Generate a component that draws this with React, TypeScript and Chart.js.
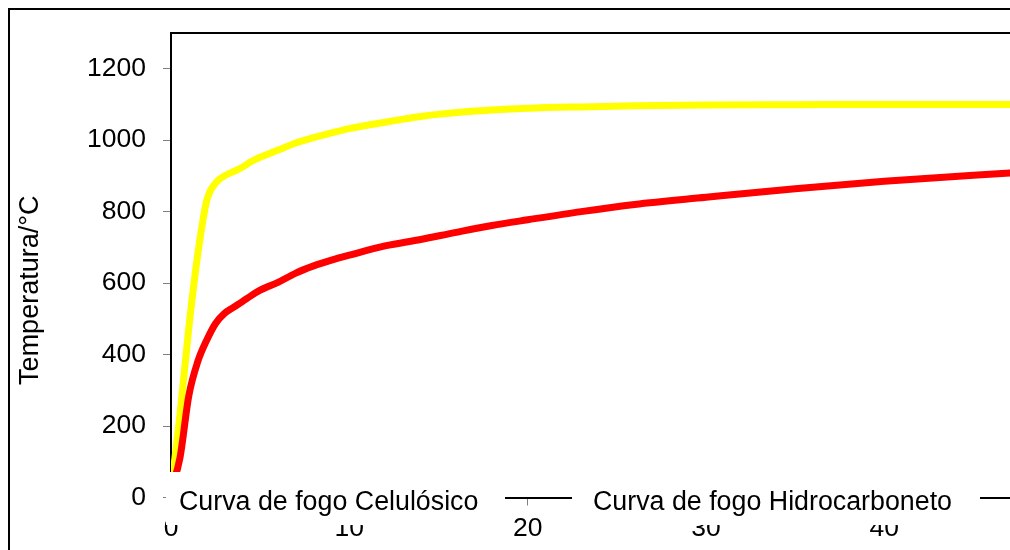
import React, { useEffect, useRef } from "react";
import { Chart, registerables } from "chart.js";

Chart.register(...registerables);

// Time in minutes
const minutes = [0, 0.5, 1, 1.5, 2, 2.5, 3, 3.5, 4, 4.5, 5, 6, 7, 8, 9, 10, 12, 14, 16, 18, 20, 23, 26, 30, 35, 40, 45, 50, 55, 60];
// Temperatures (°C)
const celulosico = [20, 110, 285, 380, 440, 487, 515, 532, 548, 565, 580, 602, 628, 648, 664, 678, 704, 722, 742, 761, 777, 800, 820, 840, 864, 885, 902, 917, 930, 942];
const hidrocarboneto = [20, 230, 475, 680, 830, 880, 900, 912, 924, 940, 952, 972, 992, 1007, 1020, 1032, 1050, 1066, 1077, 1084, 1089, 1093, 1096, 1098, 1099, 1100, 1100, 1100, 1100, 1100];
const seriesNames = ["Curva de fogo Celulósico", "Curva de fogo Hidrocarboneto"];
const seriesColors = ["#FF0000", "#FFFF00"];
const yTicks = [0, 200, 400, 600, 800, 1000, 1200];
const xTicks = [0, 10, 20, 30, 40, 50, 60];
const yTitle = "Temperatura/°C";

const FONT_FAMILY = "'Liberation Sans', Arial, Helvetica, sans-serif";
const FONT_SIZE = 26.5;

const overlayPlugin = {
  id: "overlay",
  afterDraw(chart: any) {
    const { ctx, chartArea } = chart;
    const { left, top, bottom, right } = chartArea;
    ctx.save();
    // plot area top border
    ctx.strokeStyle = "#000";
    ctx.lineWidth = 2;
    ctx.beginPath();
    ctx.moveTo(left - 1, top);
    ctx.lineTo(right, top);
    ctx.stroke();

    // y axis title
    ctx.save();
    ctx.font = `${FONT_SIZE + 0.5}px ${FONT_FAMILY}`;
    ctx.fillStyle = "#000";
    ctx.textAlign = "center";
    ctx.textBaseline = "alphabetic";
    ctx.translate(38, (top + bottom) / 2 + 25);
    ctx.rotate(-Math.PI / 2);
    ctx.fillText(yTitle, 0, 0);
    ctx.restore();

    // legend (text boxes with white background)
    const boxTop = bottom - 25.5;
    const boxH = 53;
    ctx.fillStyle = "#fff";
    ctx.fillRect(left - 5, boxTop, 339, boxH);
    ctx.fillRect(left + 401, boxTop, 408, boxH);
    ctx.fillStyle = "#000";
    ctx.font = `${FONT_SIZE + 0.3}px ${FONT_FAMILY}`;
    ctx.textAlign = "left";
    ctx.textBaseline = "alphabetic";
    const names = chart.data.datasets.map((d: any) => d.label);
    ctx.fillText(names[0], left + 8, bottom + 12.5);
    ctx.fillText(names[1], left + 422, bottom + 12.5);
    ctx.restore();
  },
};

export default function App() {
  const canvasRef = useRef<HTMLCanvasElement | null>(null);

  useEffect(() => {
    const canvas = canvasRef.current;
    if (!canvas) return;
    const chart = new Chart(canvas, {
      type: "line",
      data: {
        datasets: [
          {
            label: seriesNames[0],
            data: minutes.map((t, i) => ({ x: t, y: celulosico[i] })),
            borderColor: seriesColors[0],
            backgroundColor: seriesColors[0],
            borderWidth: 7,
            pointRadius: 0,
            cubicInterpolationMode: "monotone",
            fill: false,
          },
          {
            label: seriesNames[1],
            data: minutes.map((t, i) => ({ x: t, y: hidrocarboneto[i] })),
            borderColor: seriesColors[1],
            backgroundColor: seriesColors[1],
            borderWidth: 7,
            pointRadius: 0,
            cubicInterpolationMode: "monotone",
            fill: false,
          },
        ],
      },
      options: {
        animation: false,
        responsive: false,
        devicePixelRatio: 1,
        layout: { padding: { left: 0, top: 31, right: 59, bottom: 0 } },
        plugins: {
          legend: { display: false },
          tooltip: { enabled: false },
          title: { display: false },
        },
        scales: {
          x: {
            type: "linear",
            min: 0,
            max: 60,
            afterBuildTicks: (scale: any) => {
              scale.ticks = xTicks.map((v) => ({ value: v }));
            },
            afterFit: (scale: any) => {
              scale.height = 102.5;
            },
            ticks: {
              stepSize: 10,
              padding: 7,
              color: "#000",
              font: { family: FONT_FAMILY, size: FONT_SIZE },
              maxRotation: 0,
              callback: (v: any) => String(v),
            },
            grid: {
              drawOnChartArea: false,
              drawTicks: true,
              tickLength: 8,
              color: "#808080",
            },
            border: { display: true, color: "#000", width: 2 },
          },
          y: {
            type: "linear",
            min: 0,
            max: 1300,
            afterBuildTicks: (scale: any) => {
              scale.ticks = yTicks.map((v) => ({ value: v }));
            },
            afterFit: (scale: any) => {
              scale.width = 171;
            },
            ticks: {
              stepSize: 200,
              padding: 17,
              color: "#000",
              font: { family: FONT_FAMILY, size: FONT_SIZE },
              callback: (v: any) => String(v),
            },
            grid: {
              drawOnChartArea: false,
              drawTicks: true,
              tickLength: 8,
              color: "#808080",
            },
            border: { display: true, color: "#000", width: 2 },
          },
        },
      },
      plugins: [overlayPlugin],
    } as any);
    return () => chart.destroy();
  }, []);

  return (
    <div
      style={{
        position: "fixed",
        left: 0,
        top: 0,
        width: 1010,
        height: 550,
        overflow: "hidden",
        background: "#fff",
      }}
    >
      <div
        style={{
          position: "absolute",
          left: 7.5,
          top: 7.5,
          width: 1500,
          height: 800,
          borderLeft: "2px solid #000",
          borderTop: "2px solid #000",
          boxSizing: "border-box",
        }}
      />
      <canvas
        ref={canvasRef}
        width={1300}
        height={600}
        style={{ position: "absolute", left: 0, top: 0, width: 1300, height: 600 }}
      />
    </div>
  );
}
